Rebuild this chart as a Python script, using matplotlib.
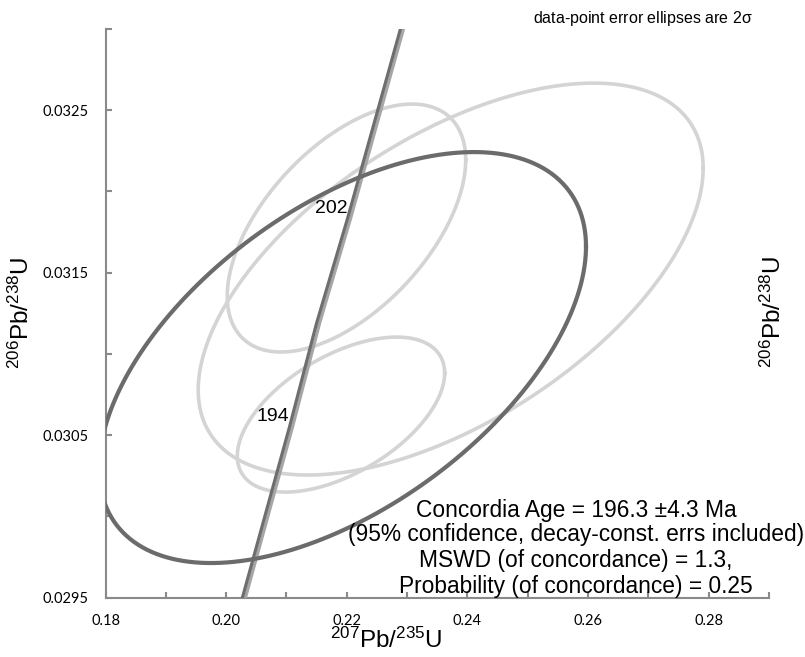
import numpy as np
import matplotlib
matplotlib.use("Agg")
import matplotlib.pyplot as plt

plt.rcParams['font.family'] = ['Liberation Sans', 'DejaVu Sans']
plt.rcParams['mathtext.fontset'] = 'custom'
plt.rcParams['mathtext.rm'] = 'Liberation Sans'
plt.rcParams['mathtext.it'] = 'Liberation Sans'
plt.rcParams['mathtext.default'] = 'regular'

# ---- data ----
# data-point error ellipses: centre, half-extent (2 sigma), error correlation
ell_x = [0.21995, 0.23723, 0.21904, 0.21929]
ell_y = [0.031775, 0.031461, 0.030627, 0.030978]
ell_ex = [0.01977, 0.04186, 0.01719, 0.04037]
ell_ey = [0.000763, 0.001206, 0.000477, 0.0012646]
ell_rho = [0.55, 0.566, 0.535, 0.54]
ell_color = ['#d4d4d4', '#d4d4d4', '#d4d4d4', '#6b6b6b']

# concordia curve points
conc_x = [0.2027, 0.2105, 0.2150, 0.2201, 0.2289]
conc_y = [0.0295, 0.03055, 0.03119, 0.03183, 0.0330]
# labelled ages on the concordia
age_labels = ['194', '202']
age_x = [0.2105, 0.2201]
age_y = [0.03055, 0.03183]

xticks = [0.18, 0.20, 0.22, 0.24, 0.26, 0.28]
xtick_labels = ['0.18', '0.20', '0.22', '0.24', '0.26', '0.28']
yticks = [0.0295, 0.0305, 0.0315, 0.0325]
ytick_labels = ['0.0295', '0.0305', '0.0315', '0.0325']

result_lines = ['Concordia Age = 196.3 \u00b14.3 Ma',
                '(95% confidence, decay-const. errs included)',
                'MSWD (of concordance) = 1.3,',
                'Probability (of concordance) = 0.25']

# ---- figure ----
W, H = 805, 657
fig = plt.figure(figsize=(W / 100, H / 100), dpi=100)
ax = fig.add_axes([105.5 / W, 1 - 597.7 / H, (769 - 105.5) / W, (597.7 - 29) / H])
ax.set_xlim(0.18, 0.29)
ax.set_ylim(0.0295, 0.0330)

t = np.linspace(0, 2 * np.pi, 400)
for i in range(3):
    xs = ell_x[i] + ell_ex[i] * np.cos(t)
    ys = ell_y[i] + ell_ey[i] * (ell_rho[i] * np.cos(t) + np.sqrt(1 - ell_rho[i] ** 2) * np.sin(t))
    ax.plot(xs, ys, color=ell_color[i], lw=2.6, zorder=2)

cx = np.array(conc_x)
ax.plot(cx + 0.0005, conc_y, color='#a6a6a6', lw=2.3, zorder=3)
ax.plot(cx, conc_y, color='#6e6e6e', lw=2.3, zorder=4)

i = 3
xs = ell_x[i] + ell_ex[i] * np.cos(t)
ys = ell_y[i] + ell_ey[i] * (ell_rho[i] * np.cos(t) + np.sqrt(1 - ell_rho[i] ** 2) * np.sin(t))
ax.plot(xs, ys, color=ell_color[i], lw=3.0, zorder=5)

for lab, x, y in zip(age_labels, age_x, age_y):
    ax.annotate(lab, (x, y), xytext=(0, 1.5), textcoords='offset points',
                ha='right', va='bottom', fontsize=14, zorder=6)

# axes styling
for s in ['top', 'right']:
    ax.spines[s].set_visible(False)
for s in ['left', 'bottom']:
    ax.spines[s].set_color('#8a8a8a')
    ax.spines[s].set_linewidth(1.5)

ax.set_xticks(xticks)
ax.set_xticklabels(xtick_labels, fontfamily='Lato', fontsize=10.5)
ax.set_xticks([0.19, 0.21, 0.23, 0.25, 0.27, 0.29], minor=True)
ax.set_yticks(yticks)
ax.set_yticklabels(ytick_labels, fontfamily='Lato', fontsize=10.5)
ax.set_yticks([0.0300, 0.0310, 0.0320, 0.0330], minor=True)
ax.tick_params(which='both', direction='in', length=4, width=1.5, color='#8a8a8a')
ax.tick_params(axis='x', which='major', pad=12)
ax.tick_params(axis='y', which='major', pad=12)

lab_y = r'$^{206}$Pb/$^{238}$U'
lab_x = r'$^{207}$Pb/$^{235}$U'
fig.text(21 / W, 1 - 313 / H, lab_y, rotation=90, ha='center', va='center', fontsize=17.5)
fig.text(773 / W, 1 - 312 / H, lab_y, rotation=90, ha='center', va='center', fontsize=17.5)
fig.text(386 / W, 1 - 640 / H, lab_x, ha='center', va='center', fontsize=17.5)

fig.text(643 / W, 1 - 18 / H, 'data-point error ellipses are 2$\\sigma$',
         ha='center', va='center', fontsize=11.5)

for line, py in zip(result_lines, [510, 535, 561, 587]):
    fig.text(576 / W, 1 - py / H, line, ha='center', va='center', fontsize=16.4)

fig.savefig('out.png', dpi=100)
